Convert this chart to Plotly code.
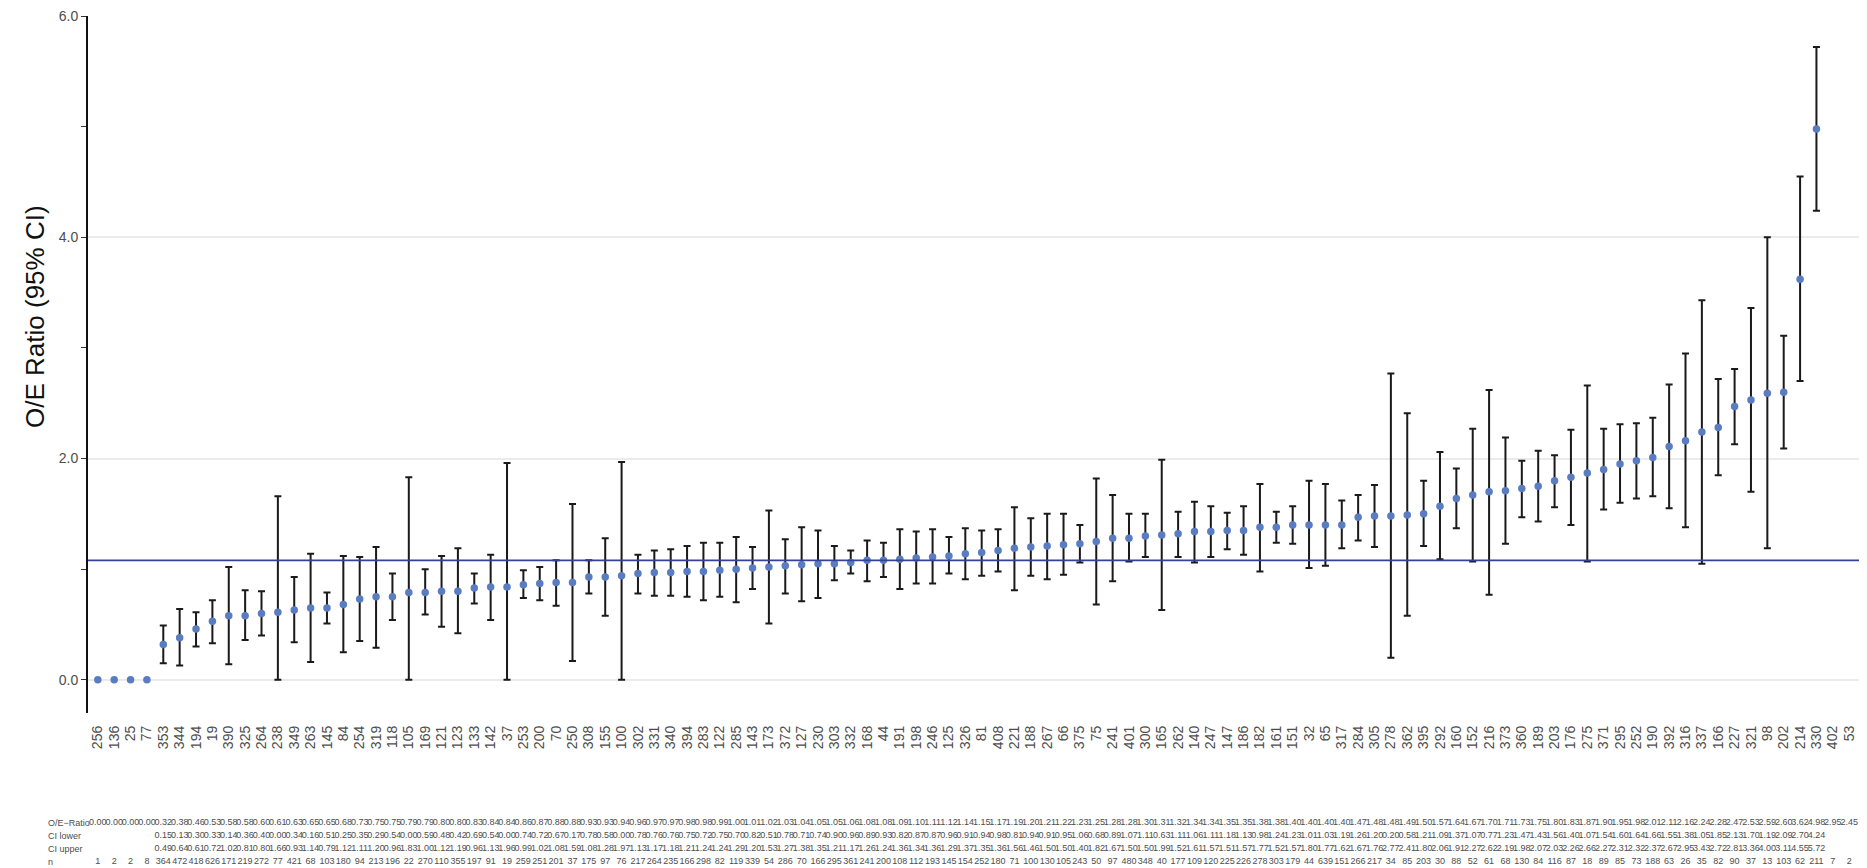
import plotly.graph_objects as go

categories = ["256","136","25","77","353","344","194","19","390","325","264","238","349","263","145","84","254","319","118","105",
              "169","121","123","133","142","37","253","200","70","250","308","155","100","302","331","340","394","283","122","285",
              "143","173","372","127","230","303","332","168","44","191","198","246","125","326","81","408","221","188","267","66",
              "375","75","241","401","300","165","262","140","247","147","186","182","161","151","32","65","317","284","305","278",
              "362","395","292","160","152","216","373","360","189","203","176","275","371","295","252","190","392","316","337","166",
              "227","321","98","202","214","330","402","53"]

oe_ratio = [0.00,0.00,0.00,0.00,0.32,0.38,0.46,0.53,0.58,0.58,0.60,0.61,0.63,0.65,0.65,0.68,0.73,0.75,0.75,0.79,
            0.79,0.80,0.80,0.83,0.84,0.84,0.86,0.87,0.88,0.88,0.93,0.93,0.94,0.96,0.97,0.97,0.98,0.98,0.99,1.00,
            1.01,1.02,1.03,1.04,1.05,1.05,1.06,1.08,1.08,1.09,1.10,1.11,1.12,1.14,1.15,1.17,1.19,1.20,1.21,1.22,
            1.23,1.25,1.28,1.28,1.30,1.31,1.32,1.34,1.34,1.35,1.35,1.38,1.38,1.40,1.40,1.40,1.40,1.47,1.48,1.48,
            1.49,1.50,1.57,1.64,1.67,1.70,1.71,1.73,1.75,1.80,1.83,1.87,1.90,1.95,1.98,2.01,2.11,2.16,2.24,2.28,
            2.47,2.53,2.59,2.60,3.62,4.98,2.95,2.45]

ci_lower = [None,None,None,None,0.15,0.13,0.30,0.33,0.14,0.36,0.40,0.00,0.34,0.16,0.51,0.25,0.35,0.29,0.54,0.00,
            0.59,0.48,0.42,0.69,0.54,0.00,0.74,0.72,0.67,0.17,0.78,0.58,0.00,0.78,0.76,0.76,0.75,0.72,0.75,0.70,
            0.82,0.51,0.78,0.71,0.74,0.90,0.96,0.89,0.93,0.82,0.87,0.87,0.96,0.91,0.94,0.98,0.81,0.94,0.91,0.95,
            1.06,0.68,0.89,1.07,1.11,0.63,1.11,1.06,1.11,1.18,1.13,0.98,1.24,1.23,1.01,1.03,1.19,1.26,1.20,0.20,
            0.58,1.21,1.09,1.37,1.07,0.77,1.23,1.47,1.43,1.56,1.40,1.07,1.54,1.60,1.64,1.66,1.55,1.38,1.05,1.85,
            2.13,1.70,1.19,2.09,2.70,4.24,None,None]

ci_upper = [None,None,None,None,0.49,0.64,0.61,0.72,1.02,0.81,0.80,1.66,0.93,1.14,0.79,1.12,1.11,1.20,0.96,1.83,
            1.00,1.12,1.19,0.96,1.13,1.96,0.99,1.02,1.08,1.59,1.08,1.28,1.97,1.13,1.17,1.18,1.21,1.24,1.24,1.29,
            1.20,1.53,1.27,1.38,1.35,1.21,1.17,1.26,1.24,1.36,1.34,1.36,1.29,1.37,1.35,1.36,1.56,1.46,1.50,1.50,
            1.40,1.82,1.67,1.50,1.50,1.99,1.52,1.61,1.57,1.51,1.57,1.77,1.52,1.57,1.80,1.77,1.62,1.67,1.76,2.77,
            2.41,1.80,2.06,1.91,2.27,2.62,2.19,1.98,2.07,2.03,2.26,2.66,2.27,2.31,2.32,2.37,2.67,2.95,3.43,2.72,
            2.81,3.36,4.00,3.11,4.55,5.72,None,None]

n_cases = [1,2,2,8,364,472,418,626,171,219,272,77,421,68,103,180,94,213,196,22,
           270,110,355,197,91,19,259,251,201,37,175,97,76,217,264,235,166,298,82,119,
           339,54,286,70,166,295,361,241,200,108,112,193,145,154,252,180,71,100,130,105,
           243,50,97,480,348,40,177,109,120,225,226,278,303,179,44,639,151,266,217,34,
           85,203,30,88,52,61,68,130,84,116,87,18,89,85,73,188,63,26,35,82,
           90,37,13,103,62,211,7,2]

reference_ratio = 1.08
row_labels = ["O/E\u2212Ratio", "CI lower", "CI upper", "n"]
y_title = "O/E Ratio (95% CI)"

POINT_COLOR = "#5A7CC2"
TEXT_GRAY = "#4d4d4d"
FONT = "Liberation Sans, Arial, sans-serif"

ci_idx = [i for i in range(len(categories)) if ci_lower[i] is not None and ci_upper[i] is not None]
zero_idx = [i for i in range(len(categories)) if ci_lower[i] is None and oe_ratio[i] == 0]

fig = go.Figure()

fig.add_trace(go.Scatter(
    x=[categories[i] for i in ci_idx],
    y=[oe_ratio[i] for i in ci_idx],
    mode="markers",
    marker=dict(color=POINT_COLOR, size=7.5),
    error_y=dict(type="data", symmetric=False,
                 array=[ci_upper[i] - oe_ratio[i] for i in ci_idx],
                 arrayminus=[oe_ratio[i] - ci_lower[i] for i in ci_idx],
                 color="#1a1a1a", thickness=2, width=3.5),
    xaxis="x", yaxis="y", showlegend=False, hoverinfo="x+y",
))
fig.add_trace(go.Scatter(
    x=[categories[i] for i in zero_idx],
    y=[oe_ratio[i] for i in zero_idx],
    mode="markers",
    marker=dict(color=POINT_COLOR, size=7.5),
    xaxis="x", yaxis="y", showlegend=False, hoverinfo="x+y",
))

def fmt(v):
    return "" if v is None else f"{v:.2f}"

table_rows = [
    [fmt(v) for v in oe_ratio],
    [fmt(v) for v in ci_lower],
    [fmt(v) for v in ci_upper],
    [str(v) for v in n_cases],
]

# page is offset by the browser's default 8px body margin
W, H = 1859, 860
ml, mr, mt, mb = 80, 8, 8, 0
plot_w = W - ml - mr
plot_h = H - mt - mb
main_bottom_px = 705
main_bottom = (H - mb - main_bottom_px) / plot_h
table_top = 52 / plot_h

for k, row in enumerate(table_rows):
    fig.add_trace(go.Scatter(
        x=categories, y=[3 - k] * len(categories),
        mode="text", text=row,
        textfont=dict(size=9, color=TEXT_GRAY, family=FONT),
        textposition="middle center",
        xaxis="x", yaxis="y2", showlegend=False, hoverinfo="skip", cliponaxis=False,
    ))
    fig.add_annotation(
        x=(38 - ml) / plot_w, xref="paper", xanchor="left",
        y=3 - k, yref="y2", yanchor="middle",
        text=row_labels[k], showarrow=False,
        font=dict(size=9, color=TEXT_GRAY, family=FONT),
    )

fig.add_annotation(
    x=(27 - ml) / plot_w, xref="paper", xanchor="center",
    y=3.28, yref="y", yanchor="middle",
    text=y_title, textangle=-90, showarrow=False,
    font=dict(size=26, color="#111111", family=FONT),
)

fig.add_shape(type="line", xref="x domain", x0=0, x1=1, yref="y",
              y0=reference_ratio, y1=reference_ratio,
              line=dict(color="#35409A", width=1.8), layer="above")

fig.update_layout(
    width=W, height=H,
    margin=dict(l=ml, r=mr, t=mt, b=mb, pad=0),
    paper_bgcolor="white", plot_bgcolor="white",
    font=dict(family=FONT),
    xaxis=dict(type="category", categoryorder="array", categoryarray=categories,
               range=[-0.6, len(categories) - 0.4], anchor="y",
               tickmode="linear", tick0=0, dtick=1,
               tickangle=-90, tickfont=dict(size=14, color=TEXT_GRAY),
               showgrid=False, showline=False, zeroline=False, ticks="",
               ticklabelstandoff=9),
    yaxis=dict(domain=[main_bottom, 1], range=[-0.3, 6.0005], anchor="x",
               tick0=0, dtick=2, tickformat=".1f",
               ticks="outside", ticklen=5, tickwidth=1, tickcolor="#333333",
               tickfont=dict(size=14, color=TEXT_GRAY), ticklabeloverflow="allow",
               showline=True, linecolor="#111111", linewidth=2,
               showgrid=True, gridcolor="#ebebeb", gridwidth=1.5, zeroline=False,
               minor=dict(tick0=0, dtick=1, ticks="outside", ticklen=5, tickcolor="#333333", showgrid=False),
               automargin=False),
    yaxis2=dict(domain=[0, table_top], range=[-0.5, 3.5], anchor="x", visible=False),
)

fig.write_html("out.html")
